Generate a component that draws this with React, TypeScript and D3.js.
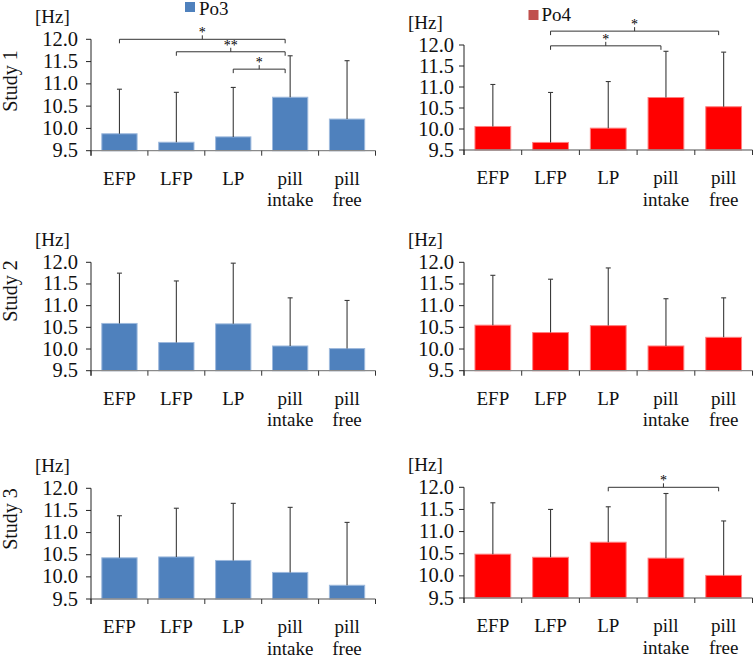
import React from "react";
import * as d3 from "d3";

const categories = ["EFP", "LFP", "LP", "pill intake", "pill free"];
const yTicks = [9.5, 10.0, 10.5, 11.0, 11.5, 12.0];

// Means and SDs (Hz)
const po3Study1 = [9.88, 9.69, 9.81, 10.70, 10.21];
const po3Study1Sd = [1.0, 1.12, 1.11, 0.93, 1.31];
const po4Study1 = [10.06, 9.68, 10.02, 10.75, 10.53];
const po4Study1Sd = [1.0, 1.19, 1.11, 1.1, 1.3];
const po3Study2 = [10.59, 10.15, 10.58, 10.07, 10.01];
const po3Study2Sd = [1.16, 1.42, 1.4, 1.11, 1.11];
const po4Study2 = [10.55, 10.38, 10.54, 10.07, 10.27];
const po4Study2Sd = [1.15, 1.23, 1.33, 1.09, 0.91];
const po3Study3 = [10.43, 10.45, 10.37, 10.1, 9.81];
const po3Study3Sd = [0.95, 1.1, 1.29, 1.47, 1.42];
const po4Study3 = [10.49, 10.42, 10.76, 10.4, 10.01];
const po4Study3Sd = [1.16, 1.08, 0.8, 1.46, 1.23];

// significance brackets: [fromIndex, toIndex, level (Hz), label]
const sigPo3Study1: [number, number, number, string][] = [
  [0, 3, 12.0, "*"],
  [1, 3, 11.72, "**"],
  [2, 3, 11.33, "*"],
];
const sigPo4Study1: [number, number, number, string][] = [
  [1, 4, 12.33, "*"],
  [1, 3, 11.98, "*"],
];
const sigPo4Study3: [number, number, number, string][] = [[2, 4, 12.0, "*"]];

const studyLabels = ["Study 1", "Study 2", "Study 3"];
const legendLabels = ["Po3", "Po4"];

const BLUE = "#4F81BD";
const BLUE_EDGE = "#9DB9DD";
const RED = "#FF0000";
const RED_EDGE = "#FF8080";
const FONT = "'Liberation Serif', 'Times New Roman', serif";

type PanelSpec = {
  x0: number;
  x1: number;
  yTop: number;
  yBot: number;
  values: number[];
  sds: number[];
  color: string;
  edge: string;
  sig: [number, number, number, string][];
  labelGap: number;
};

function Panel({ p }: { p: PanelSpec }) {
  const x = d3
    .scaleBand<string>()
    .domain(categories)
    .range([p.x0, p.x1])
    .paddingInner(0.38)
    .paddingOuter(0.19);
  const y = d3.scaleLinear().domain([9.5, 12.0]).range([p.yBot, p.yTop]);
  const fmt = d3.format(".1f");
  const step = x.step();
  const bw = x.bandwidth();
  const cx = (i: number) => (x(categories[i]) as number) + bw / 2;
  const boundaries = d3.range(categories.length + 1).map((i) => p.x0 + i * step);

  return (
    <g>
      {p.values.map((v, i) => (
        <rect
          key={"b" + i}
          x={x(categories[i])}
          y={y(v)}
          width={bw}
          height={y(9.5) - y(v)}
          fill={p.color}
          stroke={p.edge}
          strokeWidth={1}
        />
      ))}
      {p.values.map((v, i) => (
        <g key={"e" + i} stroke="#3a3a3a" strokeWidth={1.1}>
          <line x1={cx(i)} x2={cx(i)} y1={y(v)} y2={y(v + p.sds[i])} />
          <line x1={cx(i) - 2.5} x2={cx(i) + 2.5} y1={y(v + p.sds[i])} y2={y(v + p.sds[i])} />
        </g>
      ))}
      <line x1={p.x0} x2={p.x1} y1={p.yBot} y2={p.yBot} stroke="#8a8a8a" strokeWidth={1.3} />
      {boundaries.map((bx, i) => (
        <line key={"xt" + i} x1={bx} x2={bx} y1={p.yBot} y2={p.yBot + 5} stroke="#333" strokeWidth={1} />
      ))}
      {categories.map((c, i) => {
        const parts = c.split(" ");
        return (
          <text
            key={"xl" + i}
            x={cx(i)}
            y={p.yBot + 34}
            textAnchor="middle"
            fontFamily={FONT}
            fontSize={19}
            fill="#111"
          >
            {parts.map((t, k) => (
              <tspan key={k} x={cx(i)} dy={k === 0 ? 0 : 21.5}>
                {t}
              </tspan>
            ))}
          </text>
        );
      })}
      <line x1={p.x0} x2={p.x0} y1={p.yTop} y2={p.yBot + 5} stroke="#222" strokeWidth={1} />
      {yTicks.map((t) => (
        <g key={"yt" + t}>
          <line x1={p.x0 - 5} x2={p.x0} y1={y(t)} y2={y(t)} stroke="#222" strokeWidth={1} />
          <text
            x={p.x0 - p.labelGap}
            y={y(t) + 6.5}
            textAnchor="end"
            fontFamily={FONT}
            fontSize={20.5}
            fill="#111"
          >
            {fmt(t)}
          </text>
        </g>
      ))}
      <text x={p.x0 - 56} y={p.yTop - 16} fontFamily={FONT} fontSize={19} fill="#111">
        [Hz]
      </text>
      {p.sig.map(([a, b, lvl, lab], i) => {
        const xa = cx(a);
        const xb = cx(b) - 5;
        const yy = y(lvl);
        const xm = (xa + xb) / 2;
        return (
          <g key={"s" + i}>
            <path
              d={`M${xa},${yy + 4}V${yy}H${xb}V${yy + 4}M${xm},${yy}V${yy - 4}`}
              fill="none"
              stroke="#333"
              strokeWidth={1}
            />
            <text x={xm} y={yy - 2} textAnchor="middle" fontFamily={FONT} fontSize={14} fill="#000">
              {lab}
            </text>
          </g>
        );
      })}
    </g>
  );
}

export default function App() {
  const left = { x0: 91, x1: 375.5, labelGap: 13 };
  const right = { x0: 464, x1: 752.5, labelGap: 10 };
  const panels: PanelSpec[] = [
    { ...left, yTop: 39.3, yBot: 150.7, values: po3Study1, sds: po3Study1Sd, color: BLUE, edge: BLUE_EDGE, sig: sigPo3Study1 },
    { ...right, yTop: 45, yBot: 150, values: po4Study1, sds: po4Study1Sd, color: RED, edge: RED_EDGE, sig: sigPo4Study1 },
    { ...left, yTop: 262.3, yBot: 370.7, values: po3Study2, sds: po3Study2Sd, color: BLUE, edge: BLUE_EDGE, sig: [] },
    { ...right, yTop: 262.3, yBot: 370.7, values: po4Study2, sds: po4Study2Sd, color: RED, edge: RED_EDGE, sig: [] },
    { ...left, yTop: 488.3, yBot: 599, values: po3Study3, sds: po3Study3Sd, color: BLUE, edge: BLUE_EDGE, sig: [] },
    { ...right, yTop: 487.3, yBot: 598, values: po4Study3, sds: po4Study3Sd, color: RED, edge: RED_EDGE, sig: sigPo4Study3 },
  ];
  const studyCenters = [81, 291, 519];

  return (
    <svg
      width={754}
      height={662}
      viewBox="0 0 754 662"
      style={{ position: "absolute", left: 0, top: 0, background: "#fff" }}
    >
      <rect width={754} height={662} fill="#fff" />
      {panels.map((p, i) => (
        <Panel key={i} p={p} />
      ))}
      {studyLabels.map((s, i) => (
        <text
          key={s}
          transform={`translate(16.5,${studyCenters[i]}) rotate(-90)`}
          textAnchor="middle"
          fontFamily={FONT}
          fontSize={20}
          fill="#111"
        >
          {s}
        </text>
      ))}
      <rect x={185} y={2} width={10} height={10} fill={BLUE} />
      <text x={199} y={14.5} fontFamily={FONT} fontSize={19} fill="#111">
        {legendLabels[0]}
      </text>
      <rect x={528.5} y={10} width={10} height={10} fill="#C0504D" />
      <text x={541.5} y={20.7} fontFamily={FONT} fontSize={19} fill="#111">
        {legendLabels[1]}
      </text>
    </svg>
  );
}
